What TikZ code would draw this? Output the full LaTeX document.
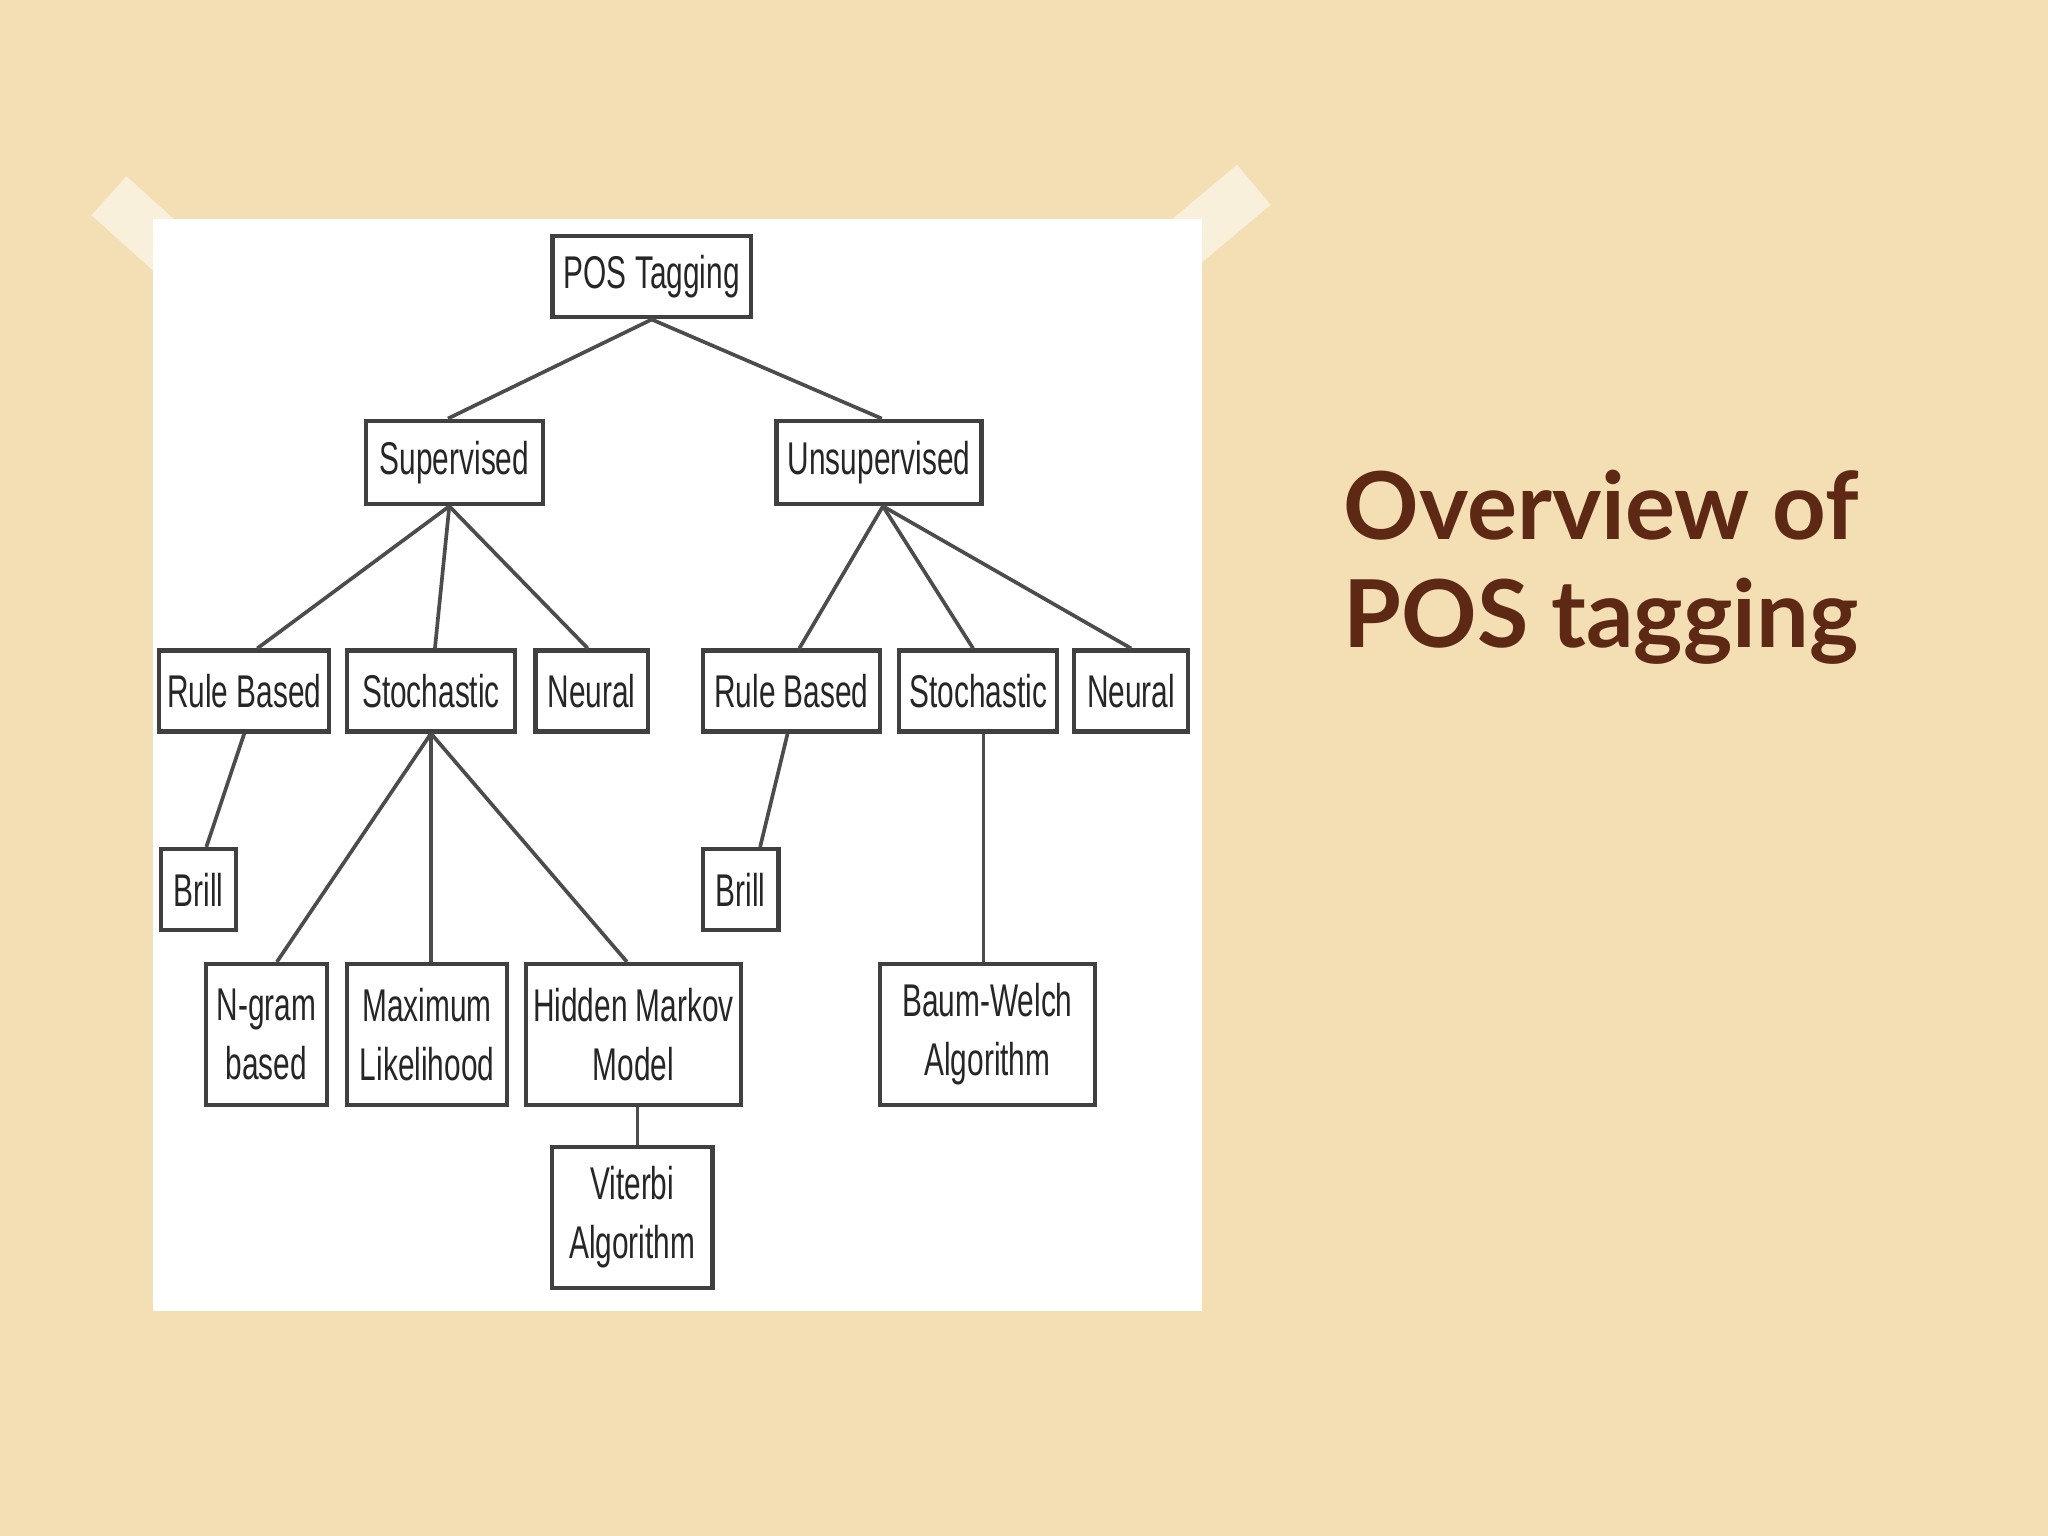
\documentclass[tikz,border=0pt]{standalone}
\usepackage{fontspec}
\newfontfamily\nodefont{Liberation Sans}[FakeStretch=0.65]
\newfontfamily\titlefont{Lato}
\usetikzlibrary{calc}
\definecolor{bg}{HTML}{F3DFB3}
\definecolor{titlec}{HTML}{5E2914}
\tikzset{
 box/.style={draw=black!75,line width=0.9pt,fill=white,inner sep=0pt,align=center,font=\nodefont\fontsize{10}{12.8}\selectfont,text=black!85},
 edge/.style={draw=black!70,line width=0.8pt},
 tape/.style={fill=white,opacity=0.55}
}
\begin{document}
\begin{tikzpicture}[x=0.1mm,y=-0.1mm]
\fill[bg] (0,0) rectangle (1568,1176);
\useasboundingbox (0,0) rectangle (1568,1176);
\fill[white] (117,168) rectangle (920,1004);
\fill[tape,rotate around={-42:(128,190)}] (68,170) rectangle (188,210);
\fill[tape,rotate around={40:(914,180)}] (854,160) rectangle (974,200);
% nodes
\node[box,minimum width=15.2mm,minimum height=6.2mm] (pos) at (499,212) {POS Tagging};
\node[box,minimum width=13.6mm,minimum height=6.4mm] (sup) at (348,354) {Supervised};
\node[box,minimum width=15.7mm,minimum height=6.4mm] (uns) at (673,354) {Unsupervised};
\node[box,minimum width=13mm,minimum height=6.2mm] (rbl) at (187,529) {Rule Based};
\node[box,minimum width=12.8mm,minimum height=6.2mm] (stl) at (330,529) {Stochastic};
\node[box,minimum width=8.6mm,minimum height=6.2mm] (nel) at (453,529) {Neural};
\node[box,minimum width=13.6mm,minimum height=6.2mm] (rbr) at (606,529) {Rule Based};
\node[box,minimum width=12.1mm,minimum height=6.2mm] (str) at (749,529) {Stochastic};
\node[box,minimum width=8.7mm,minimum height=6.2mm] (ner) at (866,529) {Neural};
\node[box,minimum width=5.8mm,minimum height=6.2mm] (brl) at (152,681) {Brill};
\node[box,minimum width=5.8mm,minimum height=6.2mm] (brr) at (567,681) {Brill};
\node[box,minimum width=9.3mm,minimum height=10.8mm] (ngr) at (204,792) {N-gram\\based};
\node[box,minimum width=12.2mm,minimum height=10.8mm] (max) at (327,792) {Maximum\\Likelihood};
\node[box,minimum width=16.4mm,minimum height=10.8mm] (hmm) at (485,792) {Hidden Markov\\Model};
\node[box,minimum width=16.5mm,minimum height=10.8mm] (bw) at (756,792) {Baum-Welch\\Algorithm};
\node[box,minimum width=12.3mm,minimum height=10.8mm] (vit) at (484,932) {Viterbi\\Algorithm};
% edges
\draw[edge] (pos.south) -- ($(sup.north)+(-5,0)$);
\draw[edge] (pos.south) -- ($(uns.north)+(2,0)$);
\draw[edge] ($(sup.south)+(-4,0)$) -- ($(rbl.north)+(10,0)$);
\draw[edge] ($(sup.south)+(-4,0)$) -- ($(stl.north)+(3,0)$);
\draw[edge] ($(sup.south)+(-4,0)$) -- ($(nel.north)+(-3,0)$);
\draw[edge] ($(uns.south)+(3,0)$) -- ($(rbr.north)+(6,0)$);
\draw[edge] ($(uns.south)+(3,0)$) -- ($(str.north)+(-4,0)$);
\draw[edge] ($(uns.south)+(3,0)$) -- (ner.north);
\draw[edge] (rbl.south) -- ($(brl.north)+(6,0)$);
\draw[edge] ($(rbr.south)+(-3,0)$) -- ($(brr.north)+(15,0)$);
\draw[edge] (stl.south) -- ($(ngr.north)+(8,0)$);
\draw[edge] (stl.south) -- ($(max.north)+(3,0)$);
\draw[edge] (stl.south) -- ($(hmm.north)+(-5,0)$);
\draw[edge] ($(hmm.south)+(3,0)$) -- ($(vit.north)+(4,0)$);
\draw[edge] ($(str.south)+(4,0)$) -- ($(bw.north)+(-3,0)$);
% title
\node[anchor=base west,text=titlec,font=\titlefont\bfseries\fontsize{20.4}{24}\selectfont,align=left,inner sep=0pt] (title) at (1028,413) {Overview of};
\node[anchor=base west,text=titlec,font=\titlefont\bfseries\fontsize{20.4}{24}\selectfont,align=left,inner sep=0pt] (title2) at (1028,496) {POS tagging};
\end{tikzpicture}
\end{document}
